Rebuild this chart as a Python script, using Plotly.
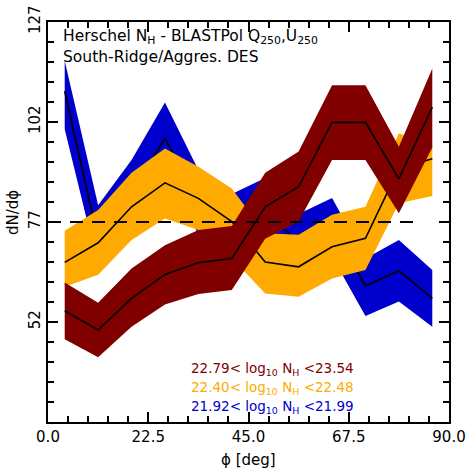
import plotly.graph_objects as go

# bin centres (deg)
phi = [3.75, 11.25, 18.75, 26.25, 33.75, 41.25, 48.75, 56.25, 63.75, 71.25, 78.75, 86.25]

# 21.92 < log10 NH < 21.99 (blue)
blue_mid = [109.7, 72.5, 84.0, 98.0, 82.0, 75.5, 79.5, 72.0, 75.7, 61.0, 64.8, 57.9]
blue_hi = [117.3, 81.2, 92.5, 106.9, 90.0, 84.0, 88.0, 79.0, 83.0, 67.9, 72.5, 65.0]
blue_lo = [100.2, 66.0, 75.5, 89.3, 74.0, 67.0, 71.0, 65.0, 68.4, 53.5, 57.1, 50.8]

# 22.40 < log10 NH < 22.48 (orange)
orng_mid = [66.9, 71.8, 80.8, 86.8, 82.9, 77.1, 67.0, 65.8, 70.8, 72.9, 90.4, 92.8]
orng_hi = [74.8, 80.0, 89.3, 95.4, 90.8, 85.4, 74.2, 73.8, 78.8, 80.8, 99.2, 96.0]
orng_lo = [60.8, 63.8, 72.5, 77.9, 75.0, 68.0, 59.1, 58.3, 62.9, 65.0, 81.7, 83.5]

# 22.79 < log10 NH < 23.54 (maroon)
maro_mid = [54.8, 50.0, 57.9, 63.9, 66.8, 67.9, 80.8, 85.8, 101.9, 101.9, 87.8, 105.7]
maro_hi = [61.9, 56.8, 65.4, 71.2, 75.0, 76.0, 89.3, 94.6, 111.2, 111.2, 95.8, 115.4]
maro_lo = [47.7, 43.2, 50.8, 56.4, 59.0, 60.0, 72.8, 77.1, 92.5, 92.5, 79.2, 95.6]

ref_level = 77.0
ref_x = [0.0, 82.0]

x_ticks = [0.0, 22.5, 45.0, 67.5, 90.0]
x_labels = ["0.0", "22.5", "45.0", "67.5", "90.0"]
y_ticks = [52, 77, 102, 127]
y_labels = ["52", "77", "102", "127"]

C_BLUE = "#0000CC"
C_ORNG = "#FFAA00"
C_MARO = "#800000"

FONT = "DejaVu Sans"

fig = go.Figure()

def add_band(lo, hi, mid, color):
    fig.add_trace(go.Scatter(
        x=phi + phi[::-1], y=hi + lo[::-1], fill="toself", fillcolor=color,
        line=dict(width=0, color=color), mode="lines", hoverinfo="skip",
        showlegend=False))
    fig.add_trace(go.Scatter(
        x=phi, y=mid, mode="lines", line=dict(color="black", width=1.6),
        showlegend=False))

add_band(blue_lo, blue_hi, blue_mid, C_BLUE)
add_band(orng_lo, orng_hi, orng_mid, C_ORNG)
add_band(maro_lo, maro_hi, maro_mid, C_MARO)

fig.add_trace(go.Scatter(
    x=ref_x, y=[ref_level, ref_level], mode="lines",
    line=dict(color="black", width=2, dash="13px,9px"), showlegend=False))

axis_common = dict(
    showgrid=False, zeroline=False, showline=True, linecolor="black",
    linewidth=2, mirror="allticks", ticks="inside", tickcolor="black",
    tickwidth=1.5, ticklen=10, automargin=False,
    tickfont=dict(family=FONT, size=15, color="black"),
)

fig.update_xaxes(
    range=[0, 90], tickvals=x_ticks, ticktext=x_labels,
    minor=dict(dtick=4.5, tick0=0, ticks="inside", ticklen=6,
               tickcolor="black", tickwidth=1.5),
    **axis_common)
fig.update_yaxes(
    range=[27, 127], tickvals=y_ticks, ticktext=y_labels, tickangle=-90,
    minor=dict(dtick=5, tick0=2, ticks="inside", ticklen=6,
               tickcolor="black", tickwidth=1.5),
    **axis_common)

ann = []
ann.append(dict(text="Herschel N<sub>H</sub> - BLASTPol Q<sub>250</sub>,U<sub>250</sub>",
                x=0.032, y=0.962, xref="paper", yref="paper", xanchor="left",
                yanchor="middle", showarrow=False,
                font=dict(family=FONT, size=15.5, color="black")))
ann.append(dict(text="South-Ridge/Aggres. DES",
                x=0.032, y=0.9125, xref="paper", yref="paper", xanchor="left",
                yanchor="middle", showarrow=False,
                font=dict(family=FONT, size=15.5, color="black")))
legend_rows = [
    ("22.79< log<sub>10</sub> N<sub>H</sub> <23.54", C_MARO, 0.1325),
    ("22.40< log<sub>10</sub> N<sub>H</sub> <22.48", C_ORNG, 0.085),
    ("21.92< log<sub>10</sub> N<sub>H</sub> <21.99", C_BLUE, 0.0375),
]
for txt, col, yy in legend_rows:
    ann.append(dict(text=txt, x=0.352, y=yy, xref="paper", yref="paper",
                    xanchor="left", yanchor="middle", showarrow=False,
                    font=dict(family=FONT, size=13.5, color=col)))
ann.append(dict(text="dN/dϕ", x=(13 - 48) / 401, y=(422 - 213) / 400,
                xref="paper", yref="paper", xanchor="center", yanchor="middle",
                showarrow=False, textangle=-90,
                font=dict(family=FONT, size=15, color="black")))
ann.append(dict(text="ϕ [deg]", x=(248 - 48) / 401, y=(422 - 460) / 400,
                xref="paper", yref="paper", xanchor="center", yanchor="middle",
                showarrow=False,
                font=dict(family=FONT, size=15, color="black")))

fig.update_layout(
    width=471, height=471,
    margin=dict(l=48, r=22, t=22, b=49, autoexpand=False),
    plot_bgcolor="white", paper_bgcolor="white",
    annotations=ann,
    showlegend=False,
)

fig.write_html("out.html")
